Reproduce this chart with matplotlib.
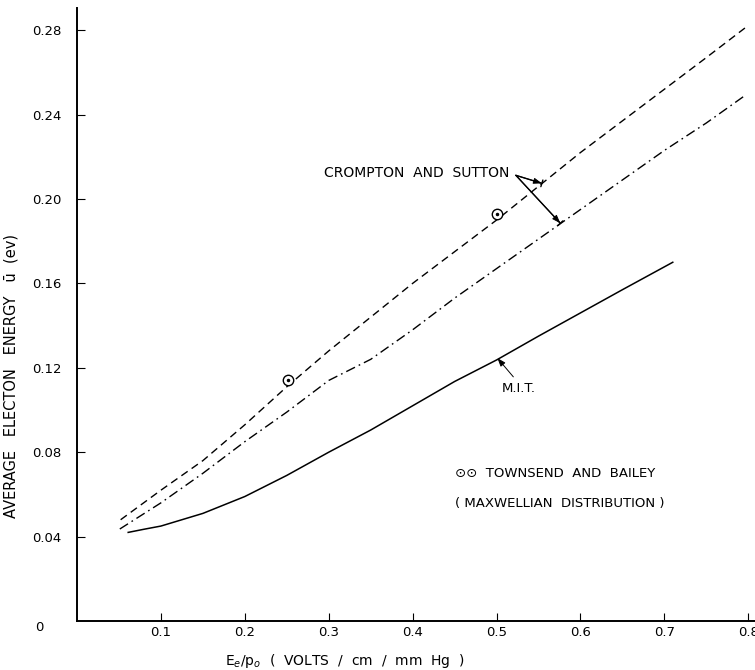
import matplotlib
matplotlib.use("Agg")
import matplotlib.pyplot as plt
import numpy as np

# ---- data ----
cs_x = [0.052, 0.10, 0.15, 0.20, 0.25, 0.30, 0.35, 0.40, 0.45, 0.50, 0.55, 0.60, 0.65, 0.70, 0.75, 0.796]
cs_y = [0.048, 0.062, 0.076, 0.093, 0.111, 0.128, 0.144, 0.160, 0.175, 0.190, 0.206, 0.222, 0.237, 0.252, 0.267, 0.281]

cs2_x = [0.051, 0.10, 0.15, 0.20, 0.25, 0.30, 0.35, 0.40, 0.45, 0.50, 0.55, 0.60, 0.65, 0.70, 0.75, 0.796]
cs2_y = [0.0436, 0.056, 0.070, 0.085, 0.099, 0.114, 0.124, 0.138, 0.153, 0.167, 0.181, 0.195, 0.209, 0.223, 0.236, 0.249]

mit_x = [0.061, 0.08, 0.10, 0.15, 0.20, 0.25, 0.30, 0.35, 0.40, 0.45, 0.50, 0.55, 0.60, 0.65, 0.71]
mit_y = [0.042, 0.0435, 0.045, 0.051, 0.059, 0.069, 0.080, 0.0905, 0.102, 0.1135, 0.1237, 0.135, 0.146, 0.157, 0.170]

tb_x = [0.251, 0.501]
tb_y = [0.114, 0.193]

x_ticks = [0.1, 0.2, 0.3, 0.4, 0.5, 0.6, 0.7, 0.8]
x_ticklabels = ["0.1", "0.2", "0.3", "0.4", "0.5", "0.6", "0.7", "0.8"]
y_ticks = [0.04, 0.08, 0.12, 0.16, 0.20, 0.24, 0.28]
y_ticklabels = ["0.04", "0.08", "0.12", "0.16", "0.20", "0.24", "0.28"]

plt.rcParams['font.family'] = ['DejaVu Sans']
plt.rcParams['mathtext.fontset'] = 'dejavusans'

fig = plt.figure(figsize=(7.55, 6.70), dpi=100)
ax = fig.add_axes([0.102, 0.0731, 0.898, 0.915])

ax.plot(cs_x, cs_y, color='black', lw=1.0, dashes=(5.5, 3.5))
ax.plot(cs2_x, cs2_y, color='black', lw=1.0, dashes=(7, 3, 1.2, 3))
ax.plot(mit_x, mit_y, color='black', lw=1.1)
ax.plot(tb_x, tb_y, ls='none', marker='o', ms=7.5, mfc='white', mec='black', mew=1.0)
ax.plot(tb_x, tb_y, ls='none', marker='o', ms=1.5, color='black')

ax.set_xlim(0, 0.808)
ax.set_ylim(0, 0.2905)

for s in ['top', 'right']:
    ax.spines[s].set_visible(False)
for s in ['left', 'bottom']:
    ax.spines[s].set_linewidth(1.4)

ax.set_xticks(x_ticks)
ax.set_xticklabels(x_ticklabels)
ax.set_yticks(y_ticks)
ax.set_yticklabels(y_ticklabels)
ax.tick_params(axis='both', direction='in', length=6, width=0.8, labelsize=9.5)
ax.tick_params(axis='x', pad=3.5)
ax.tick_params(axis='y', pad=11)

ax.text(-0.045, -0.0033, "0", fontsize=9.5, ha='center', va='center')

ax.set_xlabel("E$_e$/p$_o$  (  VOLTS  /  cm  /  mm  Hg  )", fontsize=10)
ax.xaxis.set_label_coords(0.395, -0.051)
ax.set_ylabel("AVERAGE   ELECTON   ENERGY   ū  (ev)", fontsize=10.5)
ax.yaxis.set_label_coords(-0.086, 0.40)

arrow_kw = dict(arrowstyle='-|>,head_length=0.5,head_width=0.18', color='black', lw=0.7,
                shrinkA=0, shrinkB=0)
bar_kw = dict(arrowstyle='-[,widthB=0.25,lengthB=0', color='black', lw=1.0,
              shrinkA=0, shrinkB=0)
start = (0.523, 0.2112)
for tgt in [(0.554, 0.2074), (0.576, 0.1885)]:
    ax.annotate("", xy=tgt, xytext=start, arrowprops=arrow_kw)
    ax.annotate("", xy=tgt, xytext=start, arrowprops=bar_kw)
ax.text(0.294, 0.2123, "CROMPTON  AND  SUTTON", fontsize=10, ha='left', va='center')

ax.text(0.526, 0.1104, "M.I.T.", fontsize=9.5, ha='center', va='center')
ax.annotate("", xy=(0.501, 0.1246), xytext=(0.52, 0.1157), arrowprops=arrow_kw)

ax.text(0.451, 0.0701, "⊙⊙  TOWNSEND  AND  BAILEY", fontsize=9.5, ha='left', va='center')
ax.text(0.451, 0.0559, "( MAXWELLIAN  DISTRIBUTION )", fontsize=9.5, ha='left', va='center')

fig.savefig("out.png", dpi=100)
